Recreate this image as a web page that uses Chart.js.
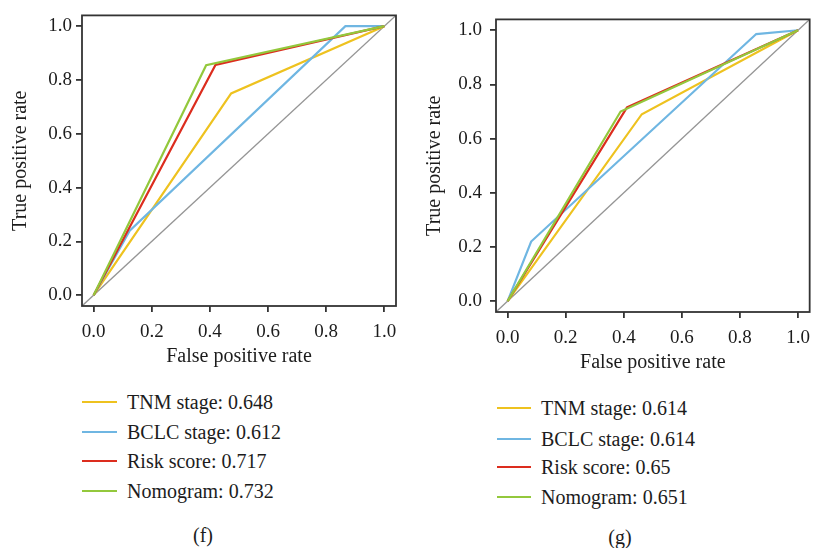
<!DOCTYPE html>
<html lang="en">
<head>
    <meta charset="UTF-8">
    <script src="https://cdn.jsdelivr.net/npm/chart.js"></script>
    <title>ROC curves (f) and (g)</title>
    <style>
        body { margin: 0; background: #fff; }
        #wrap { position: relative; width: 819px; height: 548px; overflow: hidden; font-family: "Liberation Serif", "DejaVu Serif", serif; color: #1c1c1c; }
        canvas { position: absolute; top: 0; }
        .leg-row { position: absolute; height: 24px; display: flex; align-items: center; font-size: 20px; white-space: nowrap; }
        .leg-line { display: inline-block; margin-right: 10px; }
        .caption { position: absolute; font-size: 20px; transform: translate(-50%, -50%); }
    </style>
</head>
<body>
<div id="wrap">
    <canvas id="chartF" width="410" height="371" style="left:0px;"></canvas>
    <canvas id="chartG" width="409" height="377" style="left:410px;"></canvas>
</div>

<script>
    // series names + AUC values shown in the legends
    const seriesNames = ['TNM stage', 'BCLC stage', 'Risk score', 'Nomogram'];
    const aucF = ['0.648', '0.612', '0.717', '0.732'];
    const aucG = ['0.614', '0.614', '0.65', '0.651'];
    const colors = ['#EEC21F', '#6FB6E2', '#DC2D1E', '#93C83C'];

    const tickVals = [0.0, 0.2, 0.4, 0.6, 0.8, 1.0];
    const diagX = [-0.04, 1.04];
    const diagY = [-0.04, 1.04];

    // panel (f) ROC points
    const fTnmX = [0, 0.473, 1];
    const fTnmY = [0, 0.75, 1];
    const fBclcX = [0, 0.124, 0.866, 1];
    const fBclcY = [0, 0.24, 1.0, 1];
    const fRiskX = [0, 0.419, 1];
    const fRiskY = [0, 0.856, 1];
    const fNomoX = [0, 0.387, 1];
    const fNomoY = [0, 0.855, 1];

    // panel (g) ROC points
    const gTnmX = [0, 0.462, 1];
    const gTnmY = [0, 0.69, 1];
    const gBclcX = [0, 0.081, 0.856, 1];
    const gBclcY = [0, 0.22, 0.986, 1];
    const gRiskX = [0, 0.411, 1];
    const gRiskY = [0, 0.715, 1];
    const gNomoX = [0, 0.389, 1];
    const gNomoY = [0, 0.70, 1];

    function toPts(xs, ys) {
        return xs.map((x, i) => ({ x: x, y: ys[i] }));
    }

    // draws the full box round the plot area
    const boxPlugin = {
        id: 'box',
        afterDraw(chart) {
            const a = chart.chartArea;
            const c = chart.ctx;
            c.save();
            c.strokeStyle = '#333';
            c.lineWidth = 1.8;
            c.strokeRect(a.left, a.top, a.right - a.left, a.bottom - a.top);
            c.restore();
        }
    };

    function makeChart(id, curves, cfg) {
        const datasets = curves.map((cv, i) => ({
            label: seriesNames[i],
            data: toPts(cv[0], cv[1]),
            borderColor: colors[i],
            borderWidth: 2.2,
            pointRadius: 0,
            fill: false,
            order: 3 - i,
        }));
        datasets.push({
            label: 'diag',
            data: toPts(diagX, diagY),
            borderColor: '#959595',
            borderWidth: 1.3,
            pointRadius: 0,
            fill: false,
            order: 10,
        });

        const tickSetup = (scale) => {
            scale.ticks = tickVals.map(v => ({ value: v }));
        };
        const gridOpts = {
            drawOnChartArea: false,
            drawTicks: true,
            tickLength: 6,
            color: '#333',
            lineWidth: 1.8,
        };
        const font = { family: '"Liberation Serif", serif', size: 19 };

        return new Chart(document.getElementById(id), {
            type: 'line',
            data: { datasets: datasets },
            plugins: [boxPlugin],
            options: {
                responsive: false,
                animation: false,
                devicePixelRatio: 1,
                layout: { padding: { top: 12, right: cfg.padRight, left: 0, bottom: 0 } },
                plugins: { legend: { display: false }, tooltip: { enabled: false } },
                scales: {
                    x: {
                        type: 'linear',
                        min: -0.04,
                        max: 1.04,
                        afterBuildTicks: tickSetup,
                        afterFit: (s) => { s.height = 65; },
                        grid: gridOpts,
                        border: { display: false },
                        ticks: { color: '#1c1c1c', font: font, padding: 9, maxRotation: 0,
                            callback: (v) => Number(v).toFixed(1) },
                        title: { display: true, text: 'False positive rate', color: '#1c1c1c',
                            font: { family: '"Liberation Serif", serif', size: 20 },
                            padding: { top: 0, bottom: 2 } },
                    },
                    y: {
                        type: 'linear',
                        min: -0.04,
                        max: 1.04,
                        afterBuildTicks: tickSetup,
                        afterFit: (s) => { s.width = cfg.yWidth; },
                        grid: gridOpts,
                        border: { display: false },
                        ticks: { color: '#1c1c1c', font: font, padding: cfg.yTickPad,
                            callback: (v) => Number(v).toFixed(1) },
                        title: { display: true, text: 'True positive rate', color: '#1c1c1c',
                            font: { family: '"Liberation Serif", serif', size: 20 },
                            padding: { top: cfg.yTitlePad, bottom: 0 } },
                    },
                },
            },
        });
    }

    makeChart('chartF', [[fTnmX, fTnmY], [fBclcX, fBclcY], [fRiskX, fRiskY], [fNomoX, fNomoY]],
        { padRight: 14, yWidth: 82, yTickPad: 4, yTitlePad: 9 });
    makeChart('chartG', [[gTnmX, gTnmY], [gBclcX, gBclcY], [gRiskX, gRiskY], [gNomoX, gNomoY]],
        { padRight: 2, yWidth: 86, yTickPad: 8, yTitlePad: 13 });

    // legends under each panel (html text)
    function addLegend(x, rowsY, lineW, thick, aucs) {
        const wrap = document.getElementById('wrap');
        seriesNames.forEach((name, i) => {
            const row = document.createElement('div');
            row.className = 'leg-row';
            row.style.left = x + 'px';
            row.style.top = (rowsY[i] - 12) + 'px';
            const ln = document.createElement('span');
            ln.className = 'leg-line';
            ln.style.width = lineW + 'px';
            ln.style.height = thick + 'px';
            ln.style.background = colors[i];
            row.appendChild(ln);
            row.appendChild(document.createTextNode(name + ': ' + aucs[i]));
            wrap.appendChild(row);
        });
    }
    function addCaption(text, cx, cy) {
        const d = document.createElement('div');
        d.className = 'caption';
        d.style.left = cx + 'px';
        d.style.top = cy + 'px';
        d.textContent = text;
        document.getElementById('wrap').appendChild(d);
    }

    addLegend(82, [402, 432, 461, 491], 35, 1.5, aucF);
    addLegend(497, [408, 439, 467, 497], 34, 2.5, aucG);
    addCaption('(f)', 203, 535);
    addCaption('(g)', 620, 537);
</script>
</body>
</html>
